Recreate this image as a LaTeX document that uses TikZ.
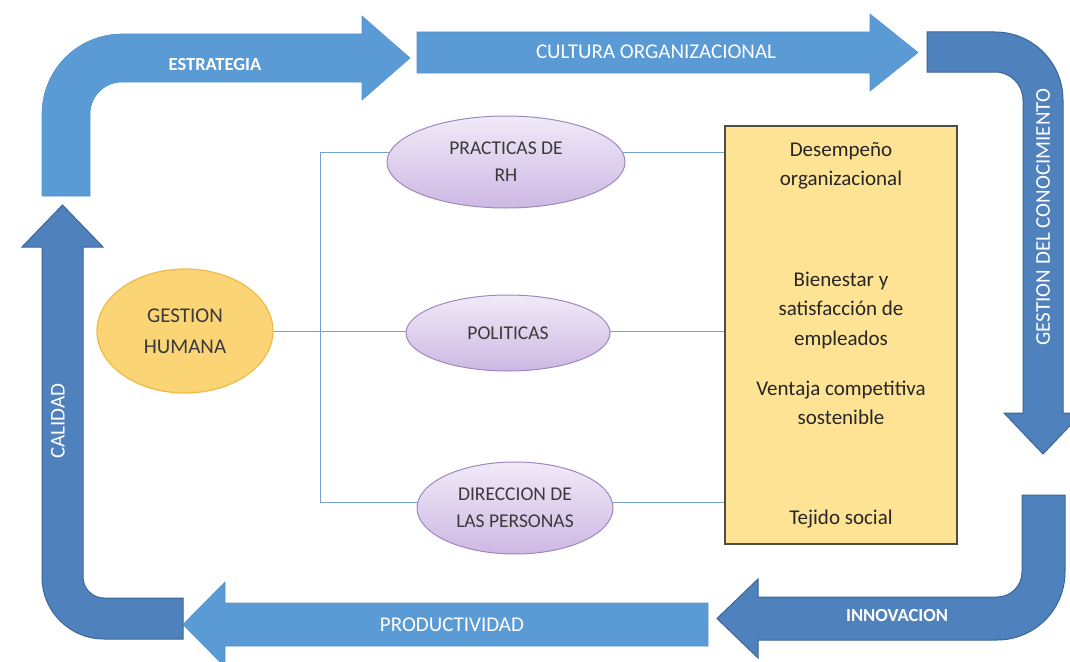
\documentclass[tikz,border=0pt]{standalone}
\usepackage{fontspec}
\setmainfont{Carlito}
\usetikzlibrary{shapes.geometric,backgrounds}
\definecolor{lightarrow}{HTML}{5B9BD5}
\definecolor{lightedge}{HTML}{5593CE}
\definecolor{darkarrow}{HTML}{4F81BD}
\definecolor{darkedge}{HTML}{3B6698}
\definecolor{purptop}{HTML}{F1EAF8}
\definecolor{purpbot}{HTML}{CDB8E3}
\definecolor{purpedge}{HTML}{9F87BF}
\definecolor{goldfill}{HTML}{FBD475}
\definecolor{goldedge}{HTML}{F0BA48}
\definecolor{boxfill}{HTML}{FFE394}
\definecolor{boxedge}{HTML}{4D4D40}
\definecolor{connblue}{HTML}{74A2D8}
\definecolor{ink}{HTML}{3A3A3A}
\definecolor{boxink}{HTML}{262626}
\begin{document}
\begin{tikzpicture}[x=1pt,y=-1pt,
  lightarr/.style={fill=lightarrow, draw=lightedge, line width=0.6pt},
  darkarr/.style={fill=darkarrow, draw=darkedge, line width=1pt},
  lbl/.style={text=white, inner sep=0pt, font=\fontsize{21}{25}\selectfont},
  lblb/.style={text=white, inner sep=0pt, font=\fontsize{18.5}{22}\selectfont\bfseries},
  purp/.style={ellipse, draw=purpedge, line width=1pt, top color=purptop, bottom color=purpbot,
    text=ink, align=center, inner sep=0pt, font=\fontsize{19.5}{27}\selectfont},
  goldell/.style={ellipse, fill=goldfill, draw=goldedge, line width=1.2pt,
    text=ink, align=center, inner sep=0pt, font=\fontsize{21}{31}\selectfont},
  conn/.style={draw=connblue, line width=0.9pt},
  boxtxt/.style={text=boxink, align=center, inner sep=0pt, font=\fontsize{21}{29.5}\selectfont}
]
\clip (0,0) rectangle (1070,661);

% ---- arrows ----
% ESTRATEGIA (bent, light)
\path[lightarr] (42,196) -- (42,114) arc[start angle=180,end angle=270,radius=80]
  -- (362,34) -- (362,16) -- (410,58) -- (362,100) -- (362,82) -- (122,82)
  arc[start angle=270,end angle=180,radius=32] -- (90,196) -- cycle;
% CULTURA ORGANIZACIONAL (straight, light)
\path[lightarr] (417,32) -- (870,32) -- (870,14) -- (918,52.5) -- (870,91) -- (870,73) -- (417,73) -- cycle;
% GESTION DEL CONOCIMIENTO (bent, dark)
\path[darkarr] (927,32) -- (995,32) arc[start angle=270,end angle=360,radius=68]
  -- (1063,413) -- (1082,413) -- (1043,454) -- (1004,413) -- (1023,413) -- (1023,100)
  arc[start angle=0,end angle=-90,radius=28] -- (927,72) -- cycle;
% INNOVACION (bent, dark)
\path[darkarr] (1022,495) -- (1065,495) -- (1065,572) arc[start angle=0,end angle=90,radius=68]
  -- (758,640) -- (758,658) -- (717,618.5) -- (758,579) -- (758,597) -- (997,597)
  arc[start angle=90,end angle=0,radius=25] -- cycle;
% PRODUCTIVIDAD (straight, light)
\path[lightarr] (708,603) -- (225,603) -- (225,582) -- (183,624.5) -- (225,667) -- (225,646) -- (708,646) -- cycle;
% CALIDAD (bent, dark)
\path[darkarr] (183,639) -- (104,639) arc[start angle=90,end angle=180,radius=62]
  -- (42,247) -- (22,247) -- (62.5,205) -- (103,247) -- (83,247) -- (83,577)
  arc[start angle=180,end angle=90,radius=21] -- (183,598) -- cycle;

% ---- arrow labels ----
\node[lblb] (lestr) at (215,64) {ESTRATEGIA};
\node[lbl] (lcult) at (656,52) {CULTURA ORGANIZACIONAL};
\node[lbl, rotate=90] (lgest) at (1043,217) {GESTION DEL CONOCIMIENTO};
\node[lblb] (linno) at (897,615) {INNOVACION};
\node[lbl] (lprod) at (452,625) {PRODUCTIVIDAD};
\node[lbl, rotate=90] (lcal) at (58,421) {CALIDAD};

% ---- nodes ----
\node[goldell, minimum width=176pt, minimum height=124pt] (gh) at (185,331) {GESTION\\HUMANA};
\node[purp, minimum width=238pt, minimum height=92pt] (prh) at (506,162) {PRACTICAS DE\\RH};
\node[purp, minimum width=204pt, minimum height=76pt] (pol) at (508,333) {POLITICAS};
\node[purp, minimum width=196pt, minimum height=92pt] (dir) at (515,508) {DIRECCION DE\\LAS PERSONAS};
\node[draw=boxedge, fill=boxfill, line width=1.2pt, minimum width=232pt, minimum height=418pt, inner sep=0pt] (box) at (841,335) {};
\node[boxtxt] (t1) at (841,166) {Desempeño\\organizacional};
\node[boxtxt] (t2) at (841,310) {Bienestar y\\satisfacción de\\empleados};
\node[boxtxt] (t3) at (841,403) {Ventaja competitiva\\sostenible};
\node[boxtxt] (t4) at (841,519) {Tejido social};

% ---- connectors (behind the nodes) ----
\coordinate (jt) at (320,152);
\coordinate (jb) at (320,502);
\coordinate (jm) at (320,331);
\begin{pgfonlayer}{background}
\fill[white] (0,0) rectangle (1070,661);
\draw[conn] (jt) -- (jb);
\draw[conn] (gh.center) -- (jm);
\draw[conn] (jm) -- (jm -| box.west);
\draw[conn] (jt) -- (jt -| box.west);
\draw[conn] (jb) -- (jb -| box.west);
\end{pgfonlayer}
\end{tikzpicture}
\end{document}
